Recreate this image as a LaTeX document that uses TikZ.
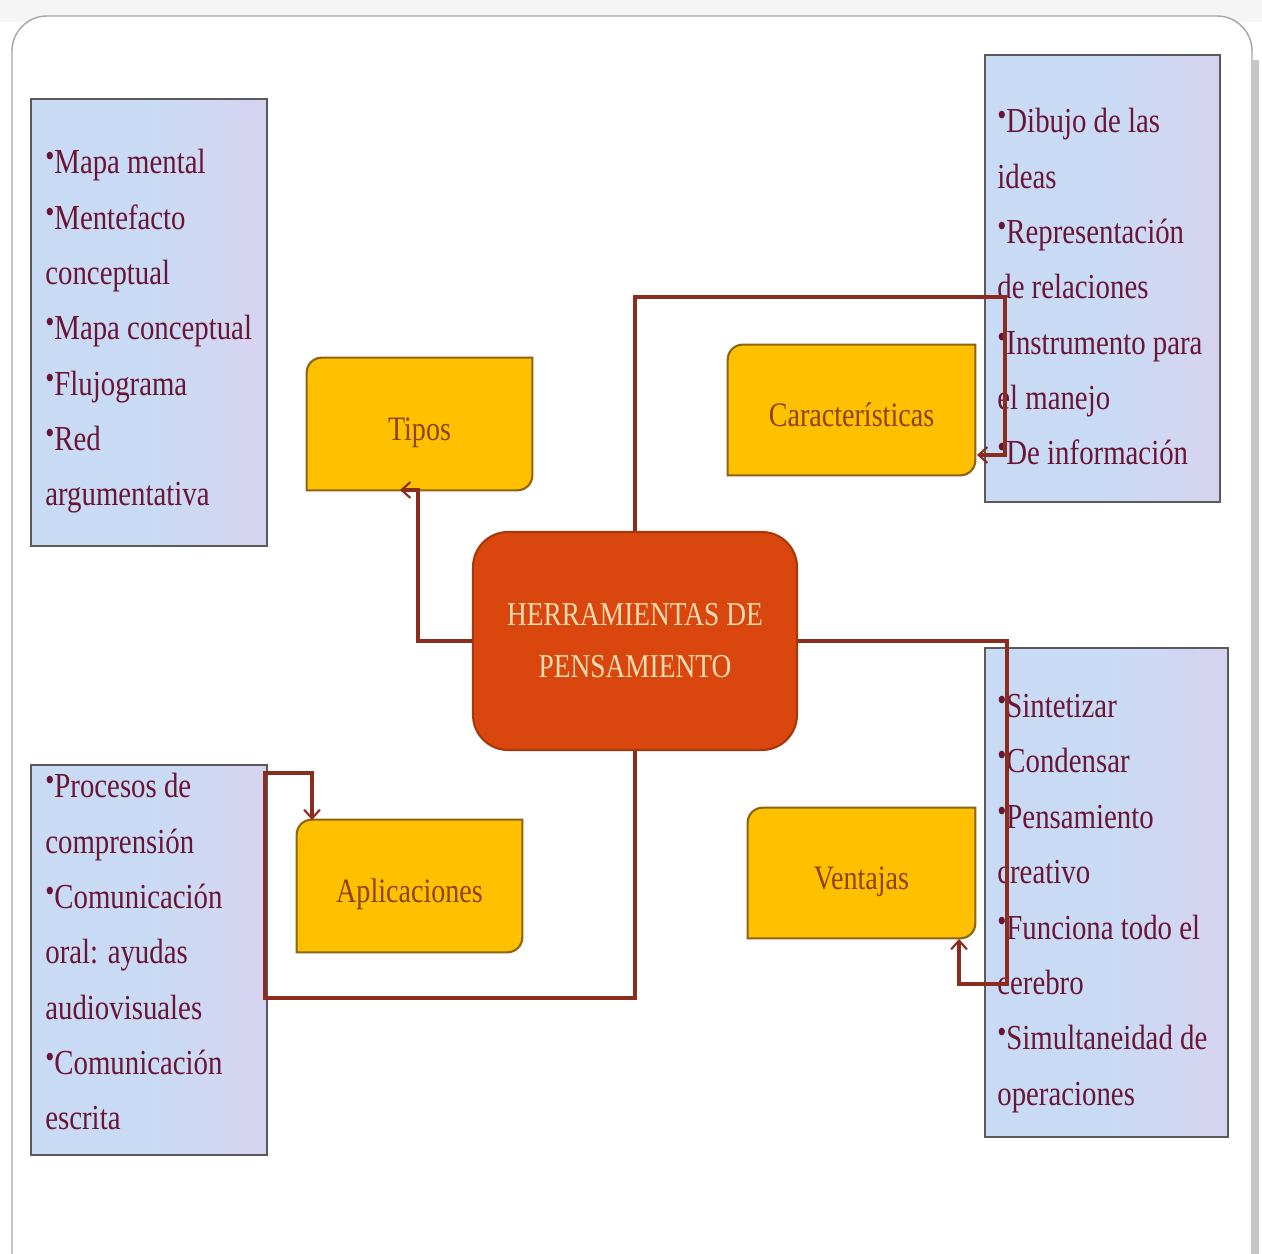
\documentclass[tikz,border=0pt]{standalone}
\usepackage{fontspec}
\setmainfont{Liberation Serif}[FakeStretch=0.82]
\usetikzlibrary{arrows.meta,backgrounds}
\definecolor{listfill}{HTML}{C9DBF4}
\definecolor{listfill2}{HTML}{D6D3F0}
\definecolor{listedge}{HTML}{5A5A5A}
\definecolor{listtext}{HTML}{6A1436}
\definecolor{boxfill}{HTML}{FFC000}
\definecolor{boxedge}{HTML}{8C6414}
\definecolor{boxtext}{HTML}{8E420C}
\definecolor{mainfill}{HTML}{D9470F}
\definecolor{mainedge}{HTML}{A8380C}
\definecolor{maintext}{HTML}{F6DDB2}
\definecolor{linkcolor}{HTML}{8A2C1E}
\newcommand{\bul}{\raisebox{4pt}{\fontsize{18}{18}\selectfont •}}
\tikzset{
  listbox/.style={left color=listfill, right color=listfill2, middle color=listfill,
    draw=listedge, line width=1pt},
  listtext/.style={anchor=north west, inner sep=0pt, align=left, text=listtext,
    font=\fontsize{20}{31.5}\selectfont},
  labelbox/.style={minimum width=4.5cm, minimum height=2.64cm, inner sep=0pt,
    text height=0.66cm, text depth=0pt, text=boxtext, font=\fontsize{19.5}{23}\selectfont},
  boxshape/.style={fill=boxfill, draw=boxedge, line width=1.2pt},
  mainbox/.style={fill=mainfill, draw=mainedge, line width=1.2pt, rounded corners=0.7cm,
    minimum width=6.48cm, minimum height=4.36cm, align=center, text=maintext,
    font=\fontsize{19}{29.5}\selectfont},
  link/.style={draw=linkcolor, line width=2.2pt,
    -{Straight Barb[length=5pt,width=9pt,line width=1.2pt]}}
}
\begin{document}
\begin{tikzpicture}[x=0.02cm, y=-0.02cm]
  \useasboundingbox (0,0) rectangle (1262,1254);
  % listas
  \draw[listbox] (31,99) rectangle (267,546);
  \node[listtext] (tiposlist) at (45,149) {\bul Mapa mental\\\bul Mentefacto\\conceptual\\\bul Mapa conceptual\\\bul Flujograma\\\bul Red\\argumentativa};
  \draw[listbox] (985,55) rectangle (1220,502);
  \node[listtext] (caractlist) at (997,108) {\bul Dibujo de las\\ideas\\\bul Representación\\de relaciones\\\bul Instrumento para\\el manejo\\\bul De información};
  \draw[listbox] (31,765) rectangle (267,1155);
  \node[listtext] (apliclist) at (45,773) {\bul Procesos de\\comprensión\\\bul Comunicación\\oral: ayudas\\audiovisuales\\\bul Comunicación\\escrita};
  \draw[listbox] (985,648) rectangle (1228,1137);
  \node[listtext] (ventlist) at (997,694) {\bul Sintetizar\\\bul Condensar\\\bul Pensamiento\\creativo\\\bul Funciona todo el\\cerebro\\\bul Simultaneidad de\\operaciones};
  % cajas amarillas
  \node[labelbox] (tipos) at (419.5,424) {Tipos};
  \node[labelbox, minimum width=4.94cm, minimum height=2.6cm] (caract) at (851.5,410) {Características};
  \node[labelbox] (aplic) at (409.5,886) {Aplicaciones};
  \node[labelbox, minimum width=4.54cm, minimum height=2.6cm] (vent) at (861.5,873) {Ventajas};
  % centro
  \node[mainbox] (herr) at (635,641) {HERRAMIENTAS DE\\PENSAMIENTO};
  % conectores
  \coordinate (tiposturn) at (418,490);
  \coordinate (tiposend) at (400,490);
  \draw[link] (herr.west) -| (tiposturn) -- (tiposend);
  \coordinate (caractturn) at (1005,297);
  \coordinate (caractend) at (977,455);
  \draw[link] (herr.north) |- (caractturn) |- (caractend);
  \coordinate (ventturn) at (1007,984);
  \coordinate (ventend) at (959,939);
  \draw[link] (herr.east) -| (ventturn) -| (ventend);
  \coordinate (aplicturn) at (265,998);
  \coordinate (aplictop) at (312,773);
  \coordinate (aplicend) at (312,820);
  \draw[link] (herr.south) |- (aplicturn) |- (aplictop) -- (aplicend);
  \begin{scope}[on background layer]
    \fill[white] (0,0) rectangle (1262,1254);
    \fill[gray!8] (0,0) rectangle (1262,22);
    % marco
    \draw[gray!45, line width=3pt] (1256,60) -- (1256,1254);
    \filldraw[fill=white, draw=gray!70, line width=0.8pt] (12,1254) -- (12,51)
      arc[start angle=180, end angle=90, radius=0.7cm] -- (1217,16)
      arc[start angle=90, end angle=0, radius=0.7cm] -- (1252,1254);
    \foreach \n in {tipos,caract,aplic,vent}
      \filldraw[boxshape] (\n.south west) -- ([yshift=-0.3cm]\n.north west)
        arc[start angle=180, end angle=90, radius=0.3cm] -- (\n.north east)
        -- ([yshift=0.3cm]\n.south east)
        arc[start angle=0, end angle=-90, radius=0.3cm] -- cycle;
  \end{scope}
\end{tikzpicture}
\end{document}
